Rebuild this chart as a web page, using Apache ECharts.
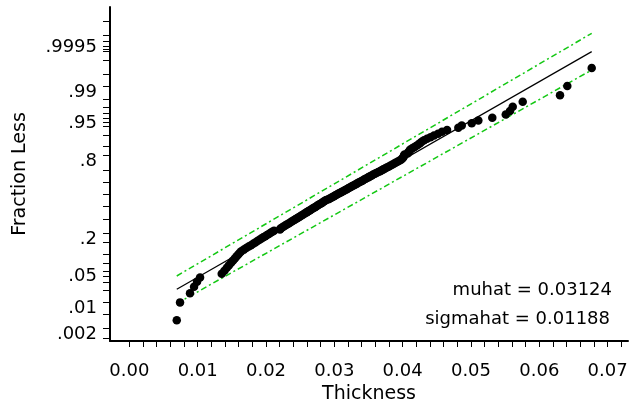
<!DOCTYPE html>
<html><head><meta charset="utf-8">
<script src="https://cdn.jsdelivr.net/npm/echarts@6/dist/echarts.min.js"></script>
<style>html,body{margin:0;padding:0;background:#fff}#c{width:631px;height:410px}</style>
</head><body><div id="c"></div>
<script>
// Sample values (Thickness), sorted
const thickness = [
0.00694,0.00742,0.00888,0.00947,0.00991,0.01035,0.01352,0.01392,0.01427,0.01459,
0.01490,0.01518,0.01544,0.01567,0.01591,0.01613,0.01638,0.01676,0.01711,0.01747,
0.01781,0.01813,0.01844,0.01875,0.01905,0.01933,0.01961,0.01989,0.02015,0.02042,
0.02068,0.02093,0.02118,0.02205,0.02213,0.02235,0.02258,0.02282,0.02304,0.02327,
0.02349,0.02371,0.02393,0.02415,0.02435,0.02456,0.02478,0.02498,0.02519,0.02539,
0.02560,0.02579,0.02599,0.02618,0.02639,0.02656,0.02677,0.02696,0.02715,0.02734,
0.02753,0.02770,0.02791,0.02810,0.02827,0.02845,0.02864,0.02882,0.02915,0.02933,
0.02955,0.02974,0.02996,0.03016,0.03038,0.03057,0.03079,0.03100,0.03120,0.03141,
0.03161,0.03183,0.03204,0.03226,0.03246,0.03265,0.03286,0.03308,0.03330,0.03351,
0.03372,0.03394,0.03416,0.03436,0.03458,0.03480,0.03502,0.03524,0.03548,0.03569,
0.03593,0.03615,0.03644,0.03669,0.03694,0.03717,0.03742,0.03767,0.03793,0.03818,
0.03845,0.03871,0.03896,0.03924,0.03951,0.03976,0.03991,0.04006,0.04013,0.04020,
0.04028,0.04071,0.04086,0.04098,0.04108,0.04137,0.04167,0.04196,0.04225,0.04254,
0.04279,0.04313,0.04357,0.04408,0.04459,0.04518,0.04576,0.04650,0.04815,0.04865,
0.05011,0.05108,0.05312,0.05509,0.05571,0.05611,0.05757,0.06303,0.06410,0.06767
];
const muhat = 0.03124;
const sigmahat = 0.01188;
// confidence band end points: [thickness, normal quantile]
const upperBand = [[0.00694, -1.759], [0.06767, 3.460]];
const lowerBand = [[0.00694, -2.352], [0.06767, 2.671]];
const xTickLabels = [0.00, 0.01, 0.02, 0.03, 0.04, 0.05, 0.06, 0.07];
const xMinorStep = 0.002;
const yTickLabels = ['.002', '.01', '.05', '.2', '.8', '.95', '.99', '.9995'];
const yTickProbs = [0.001, 0.002, 0.005, 0.01, 0.02, 0.03, 0.04, 0.05, 0.07, 0.1, 0.15, 0.2, 0.3, 0.4, 0.5,
  0.6, 0.7, 0.8, 0.85, 0.9, 0.93, 0.94, 0.95, 0.96, 0.97, 0.98, 0.99, 0.995, 0.998, 0.999, 0.9991, 0.9993, 0.9995, 0.9997, 0.9999];

function norminv(p) {
  const a = [-3.969683028665376e+01, 2.209460984245205e+02, -2.759285104469687e+02, 1.383577518672690e+02, -3.066479806614716e+01, 2.506628277459239e+00];
  const b = [-5.447609879822406e+01, 1.615858368580409e+02, -1.556989798598866e+02, 6.680131188771972e+01, -1.328068155288572e+01];
  const c = [-7.784894002430293e-03, -3.223964580411365e-01, -2.400758277161838e+00, -2.549671324505935e+00, 4.374664141464968e+00, 2.938163982698783e+00];
  const d = [7.784695709041462e-03, 3.224671290700398e-01, 2.445134137142996e+00, 3.754408661907416e+00];
  const pl = 0.02425, ph = 1 - pl;
  let q, r;
  if (p < pl) { q = Math.sqrt(-2 * Math.log(p)); return (((((c[0]*q+c[1])*q+c[2])*q+c[3])*q+c[4])*q+c[5]) / ((((d[0]*q+d[1])*q+d[2])*q+d[3])*q+1); }
  if (p > ph) { q = Math.sqrt(-2 * Math.log(1 - p)); return -(((((c[0]*q+c[1])*q+c[2])*q+c[3])*q+c[4])*q+c[5]) / ((((d[0]*q+d[1])*q+d[2])*q+d[3])*q+1); }
  q = p - 0.5; r = q * q;
  return (((((a[0]*r+a[1])*r+a[2])*r+a[3])*r+a[4])*r+a[5])*q / (((((b[0]*r+b[1])*r+b[2])*r+b[3])*r+b[4])*r+1);
}

const X_MIN = -0.00283, X_MAX = 0.07298, Y_MIN = -3.157, Y_MAX = 4.026;
const n = thickness.length;
const sorted = thickness.slice().sort((a, b) => a - b);
const points = sorted.map((v, i) => [v, norminv((i + 0.5) / n)]);
const xmin = sorted[0], xmax = sorted[n - 1];
const fitLine = [[xmin, (xmin - muhat) / sigmahat], [xmax, (xmax - muhat) / sigmahat]];
const yLabelZ = yTickLabels.map(s => norminv(parseFloat(s)));
const yTickZ = yTickProbs.map(norminv);
const xTicks = [];
for (let k = 0; k <= 36; k++) xTicks.push(+(k * xMinorStep).toFixed(4));

const FONT = 'DejaVu Sans';
const chart = echarts.init(document.getElementById('c'), null, { renderer: 'canvas' });
chart.setOption({
  animation: false,
  backgroundColor: '#fff',
  grid: { left: 110, right: 3, top: 7, bottom: 69, containLabel: false },
  xAxis: {
    type: 'value', min: X_MIN, max: X_MAX,
    name: 'Thickness', nameLocation: 'middle', nameGap: 42,
    nameTextStyle: { fontFamily: FONT, fontSize: 19, color: '#000' },
    axisLine: { show: true, onZero: false, lineStyle: { color: '#000', width: 2 } },
    axisTick: { show: true, length: 6, lineStyle: { color: '#000', width: 1 }, customValues: xTicks },
    axisLabel: { show: true, margin: 21, fontFamily: FONT, fontSize: 18, color: '#000',
      customValues: xTickLabels, formatter: v => v.toFixed(2) },
    splitLine: { show: false }
  },
  yAxis: {
    type: 'value', min: Y_MIN, max: Y_MAX,
    name: 'Fraction Less', nameLocation: 'middle', nameGap: 80, nameRotate: 90,
    nameTextStyle: { fontFamily: FONT, fontSize: 19, color: '#000' },
    axisLine: { show: true, onZero: false, lineStyle: { color: '#000', width: 2 } },
    axisTick: { show: false },
    axisLabel: { show: true, margin: 13, fontFamily: FONT, fontSize: 18, color: '#000',
      verticalAlign: 'top', lineHeight: 12,
      customValues: yLabelZ,
      formatter: v => { let best = 0; yLabelZ.forEach((z, i) => { if (Math.abs(z - v) < Math.abs(yLabelZ[best] - v)) best = i; }); return yTickLabels[best]; } },
    splitLine: { show: false }
  },
  series: [
    { type: 'custom', data: yTickZ.map(z => [X_MIN, z]), z: 5, silent: true, clip: false,
      renderItem: (params, api) => {
        const pt = api.coord([api.value(0), api.value(1)]);
        const y = Math.round(pt[1]) + 0.5;
        return { type: 'line', shape: { x1: pt[0] - 7, y1: y, x2: pt[0], y2: y }, style: { stroke: '#000', lineWidth: 1 } };
      } },
    { type: 'line', data: upperBand, symbol: 'none', z: 1,
      lineStyle: { color: '#14c814', width: 1.5, type: [6, 3, 2, 3] } },
    { type: 'line', data: lowerBand, symbol: 'none', z: 1,
      lineStyle: { color: '#14c814', width: 1.5, type: [6, 3, 2, 3] } },
    { type: 'line', data: fitLine, symbol: 'none', z: 2,
      lineStyle: { color: '#000', width: 1.2 } },
    { type: 'scatter', data: points, symbol: 'circle', symbolSize: 8.5, z: 3,
      itemStyle: { color: '#000', opacity: 1 } }
  ],
  graphic: [
    { type: 'text', right: 19, top: 281, style: { text: 'muhat = ' + muhat.toFixed(5), font: '18px "DejaVu Sans"', fill: '#000' } },
    { type: 'text', right: 21, top: 310, style: { text: 'sigmahat = ' + sigmahat.toFixed(5), font: '18px "DejaVu Sans"', fill: '#000' } }
  ]
});
</script></body></html>
